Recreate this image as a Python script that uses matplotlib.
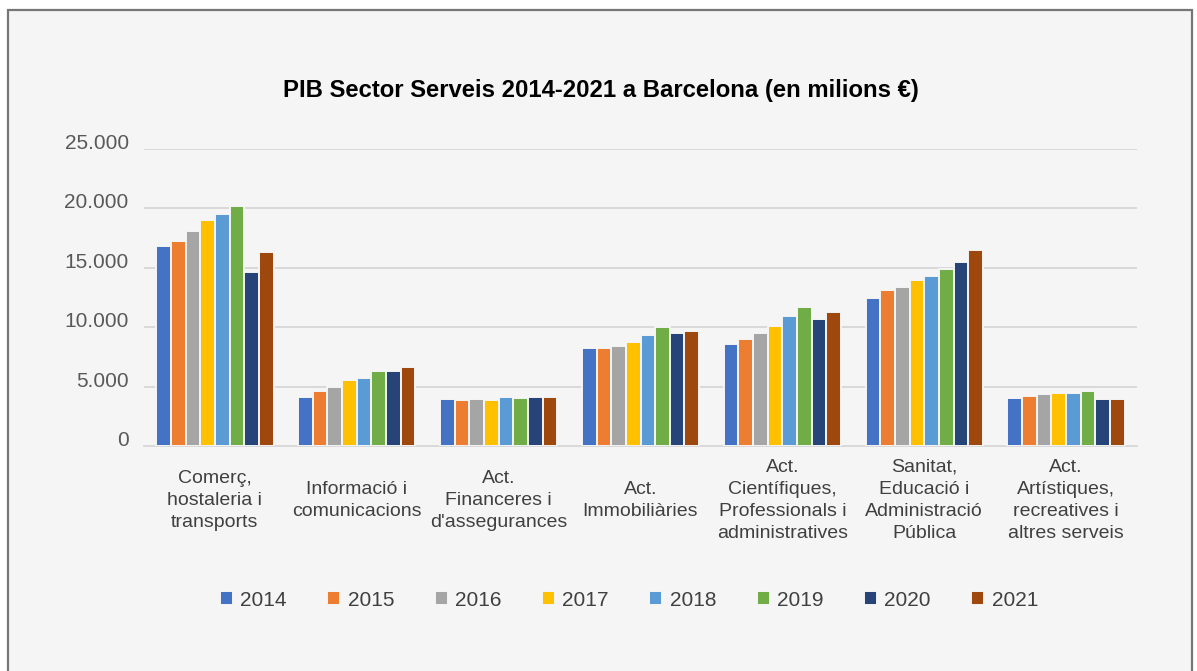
import matplotlib
matplotlib.use("Agg")
import matplotlib.pyplot as plt
from matplotlib.patches import Rectangle
import numpy as np

plt.rcParams['font.family'] = ['Liberation Sans', 'DejaVu Sans']

categories = [
    "Comerç,\nhostaleria i\ntransports",
    "Informació i\ncomunicacions",
    "Act.\nFinanceres i\nd'assegurances",
    "Act.\nImmobiliàries",
    "Act.\nCientífiques,\nProfessionals i\nadministratives",
    "Sanitat,\nEducació i\nAdministració\nPública",
    "Act.\nArtístiques,\nrecreatives i\naltres serveis",
]
years = ["2014", "2015", "2016", "2017", "2018", "2019", "2020", "2021"]

v2014 = [16800, 4160, 3930, 8250, 8620, 12500, 4030]
v2015 = [17280, 4610, 3880, 8250, 9010, 13090, 4230]
v2016 = [18070, 5000, 3930, 8390, 9550, 13420, 4370]
v2017 = [19030, 5570, 3860, 8760, 10140, 13960, 4480]
v2018 = [19560, 5740, 4160, 9350, 10930, 14350, 4480]
v2019 = [20240, 6300, 4080, 10000, 11740, 14890, 4610]
v2020 = [14650, 6350, 4160, 9550, 10650, 15460, 3970]
v2021 = [16330, 6630, 4160, 9690, 11320, 16520, 3970]
series = [v2014, v2015, v2016, v2017, v2018, v2019, v2020, v2021]

yticks = [0, 5000, 10000, 15000, 20000, 25000]
ytick_labels = ["0", "5.000", "10.000", "15.000", "20.000", "25.000"]

colors = ["#4472C4", "#ED7D31", "#A5A5A5", "#FFC000",
          "#5B9BD5", "#70AD47", "#264478", "#9E480E"]

W, H = 1197, 671
fig = plt.figure(figsize=(W / 100, H / 100), dpi=100)
fig.patch.set_facecolor("white")

# chart area background with border
fig.patches.append(Rectangle((7.5 / W, -0.05), (1192 - 7.5) / W, 1 - 10 / H + 0.05,
                             transform=fig.transFigure, facecolor="#f5f5f5",
                             edgecolor="#767676", linewidth=1.6, zorder=-10))

ax = fig.add_axes([144 / W, 1 - 446 / H, (1137 - 144) / W, (446 - 149) / H], zorder=1)
ax.set_facecolor("none")

x = np.arange(len(categories))
slot = 0.1033
for i, (vals, c, yr) in enumerate(zip(series, colors, years)):
    ax.bar(x + (i - 3.5) * slot, vals, width=slot, color=c, edgecolor="#f5f5f5",
           linewidth=1.4, label=yr, zorder=3)

ax.set_xlim(-0.5, len(categories) - 0.5)
ax.set_ylim(0, 25000)
ax.set_yticks(yticks)
ax.set_yticklabels(ytick_labels, color="#595959", fontsize=15)
for lab in ax.get_yticklabels():
    lab.set_verticalalignment("baseline")
ax.grid(axis="y", color="#d9d9d9", linewidth=1.4, zorder=0)
ax.set_axisbelow(True)
for s in ["top", "right", "left"]:
    ax.spines[s].set_visible(False)
ax.spines["bottom"].set_color("#d9d9d9")
ax.spines["bottom"].set_linewidth(1.4)
ax.tick_params(axis="y", length=0, pad=11)
ax.tick_params(axis="x", length=0, pad=39)
ax.set_xticks(x)
ax.set_xticklabels(categories, fontsize=14, color="#404040", linespacing=1.38)
for lab in ax.get_xticklabels():
    lab.set_verticalalignment("center")
    lab.set_multialignment("center")

fig.text(601 / W, 1 - 91 / H, "PIB Sector Serveis 2014-2021 a Barcelona (en milions €)",
         ha="center", va="center", fontsize=17.2, fontweight="bold", color="black")

leg = fig.legend(loc="center", bbox_to_anchor=(629 / W, 1 - 600 / H), ncol=8,
                 frameon=False, fontsize=15, handlelength=0.62, handleheight=0.62,
                 handletextpad=0.35, columnspacing=1.95, labelcolor="#404040")

fig.savefig("out.png", dpi=100, facecolor=fig.get_facecolor())
